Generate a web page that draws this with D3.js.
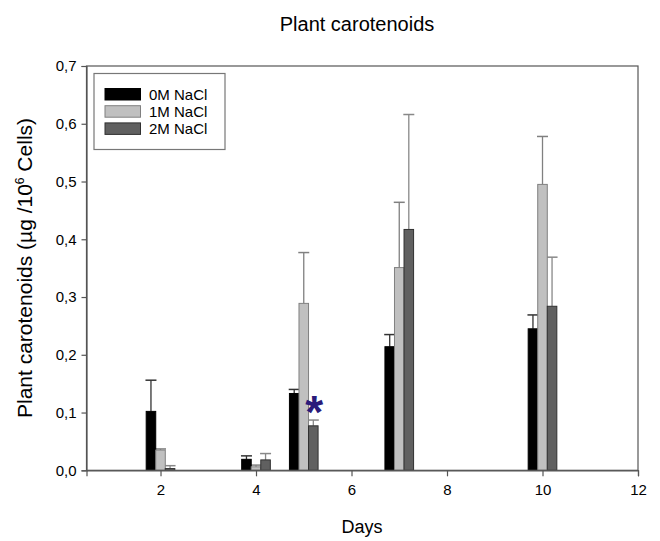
<!DOCTYPE html>
<html lang="en">
<head>
<meta charset="utf-8">
<title>Plant carotenoids</title>
<script src="https://cdn.jsdelivr.net/npm/d3@7"></script>
<style>
  body { margin: 0; background: #fff; }
  text { font-family: "Liberation Sans", Arial, sans-serif; }
</style>
</head>
<body>
<script>
var w = 660;
var h = 541;

// data
var days = [2, 4, 5, 7, 10];
var series = ["0M NaCl", "1M NaCl", "2M NaCl"];
var mean0 = [0.102, 0.019, 0.133, 0.214, 0.245];
var err0  = [0.054, 0.006, 0.007, 0.021, 0.024];
var mean1 = [0.035, 0.006, 0.289, 0.351, 0.495];
var err1  = [0.002, 0.003, 0.088, 0.113, 0.083];
var mean2 = [0.003, 0.018, 0.077, 0.417, 0.284];
var err2  = [0.005, 0.011, 0.010, 0.199, 0.085];
var xTicks = [2, 4, 6, 8, 10, 12];
var yTicks = [0, 0.1, 0.2, 0.3, 0.4, 0.5, 0.6, 0.7];
var marks = [{ day: 5.22, value: 0.122, text: "*" }];

var means = [mean0, mean1, mean2];
var errs = [err0, err1, err2];
var fills = ["#000000", "#c0c0c0", "#606060"];
var strokes = ["#000000", "#808080", "#303030"];
var errColors = ["#333333", "#808080", "#888888"];
var barW = 0.2; // in days

var padL = 86.5, padR = 638, padT = 66, padB = 470.3;

var xScale = d3.scaleLinear().domain([0.45, 12]).range([padL, padR]);
var yScale = d3.scaleLinear().domain([0, 0.7]).range([padB, padT]);

var svg = d3.select("body").append("svg")
  .attr("width", w)
  .attr("height", h);

// flatten into bar records
var bars = [];
series.forEach(function(s, si) {
  days.forEach(function(d, di) {
    bars.push({
      s: si,
      day: d,
      x: d + (si - 1) * barW,
      v: means[si][di],
      e: errs[si][di]
    });
  });
});

// error bars (drawn first, behind bars)
var eg = svg.append("g");
bars.forEach(function(b) {
  var cx = xScale(b.x);
  var col = errColors[b.s];
  eg.append("line")
    .attr("x1", cx).attr("x2", cx)
    .attr("y1", yScale(b.v)).attr("y2", yScale(b.v + b.e))
    .attr("stroke", col).attr("stroke-width", 1.3);
  eg.append("line")
    .attr("x1", cx - 5.5).attr("x2", cx + 5.5)
    .attr("y1", yScale(b.v + b.e)).attr("y2", yScale(b.v + b.e))
    .attr("stroke", col).attr("stroke-width", 1.5);
});

// bars
svg.append("g").selectAll("rect")
  .data(bars)
  .enter()
  .append("rect")
  .attr("x", function(d) { return xScale(d.x - barW / 2); })
  .attr("width", function(d) { return xScale(d.x + barW / 2) - xScale(d.x - barW / 2); })
  .attr("y", function(d) { return yScale(d.v); })
  .attr("height", function(d) { return yScale(0) - yScale(d.v); })
  .attr("fill", function(d) { return fills[d.s]; })
  .attr("stroke", function(d) { return strokes[d.s]; })
  .attr("stroke-width", 1);

// frame
svg.append("rect")
  .attr("x", padL).attr("y", padT)
  .attr("width", padR - padL).attr("height", padB - padT)
  .attr("fill", "none")
  .attr("stroke", "#555")
  .attr("stroke-width", 1.2);

// axes
var xAxis = d3.axisBottom(xScale)
  .tickValues(xTicks)
  .tickSize(6)
  .tickPadding(8)
  .tickFormat(d3.format("d"));
var yAxis = d3.axisLeft(yScale)
  .tickValues(yTicks)
  .tickSize(5)
  .tickPadding(5)
  .tickFormat(function(d) { return d.toFixed(1).replace(".", ","); });

var gx = svg.append("g")
  .attr("transform", "translate(0," + padB + ")")
  .call(xAxis);
var gy = svg.append("g")
  .attr("transform", "translate(" + padL + ",0)")
  .call(yAxis);

[gx, gy].forEach(function(g) {
  g.attr("font-size", 15).attr("font-family", "'Liberation Sans', Arial, sans-serif");
  g.select(".domain").attr("stroke", "#555").attr("stroke-width", 1.2);
  g.selectAll(".tick line").attr("stroke", "#555").attr("stroke-width", 1.2);
  g.selectAll(".tick text").attr("fill", "#000");
});

// significance mark
svg.selectAll(".mark")
  .data(marks)
  .enter()
  .append("text")
  .attr("class", "mark")
  .attr("x", function(d) { return xScale(d.day); })
  .attr("y", function(d) { return yScale(d.value); })
  .attr("dy", "0.62em")
  .attr("text-anchor", "middle")
  .style("font-size", "46px")
  .style("font-weight", "bold")
  .attr("fill", "#2a1a7a")
  .text(function(d) { return d.text; });

// titles
svg.append("text")
  .attr("x", 357).attr("y", 31)
  .attr("text-anchor", "middle")
  .style("font-size", "20px")
  .text("Plant carotenoids");

svg.append("text")
  .attr("x", 362).attr("y", 533)
  .attr("text-anchor", "middle")
  .style("font-size", "18px")
  .text("Days");

var yt = svg.append("text")
  .attr("transform", "translate(32,268) rotate(-90)")
  .attr("text-anchor", "middle")
  .style("font-size", "21px");
yt.append("tspan").text("Plant carotenoids (\u00b5g /10");
yt.append("tspan").attr("dy", -8).style("font-size", "12px").text("6");
yt.append("tspan").attr("dy", 8).text(" Cells)");

// legend
var lg = svg.append("g");
lg.append("rect")
  .attr("x", 94).attr("y", 73.5)
  .attr("width", 131).attr("height", 76)
  .attr("fill", "#fff")
  .attr("stroke", "#777")
  .attr("stroke-width", 1.2);
series.forEach(function(s, i) {
  var yy = 88.5 + i * 17.2;
  lg.append("rect")
    .attr("x", 105).attr("y", yy)
    .attr("width", 35.5).attr("height", 11.5)
    .attr("fill", fills[i])
    .attr("stroke", strokes[i])
    .attr("stroke-width", 1);
  lg.append("text")
    .attr("x", 149).attr("y", yy + 11)
    .style("font-size", "15px")
    .text(s);
});
</script>
</body>
</html>
